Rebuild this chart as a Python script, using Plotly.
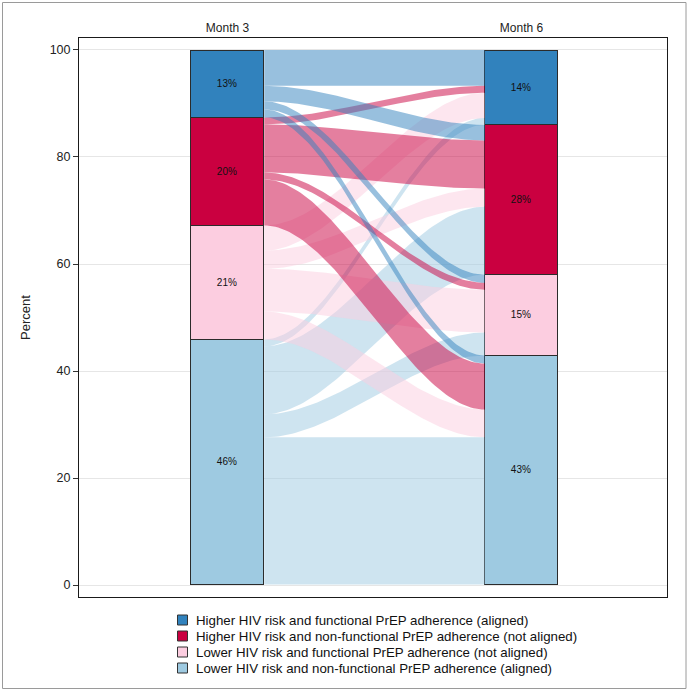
import plotly.graph_objects as go
import numpy as np

# ---- data ----
timepoints = ["Month 3", "Month 6"]
categories = [
    "Higher HIV risk and functional PrEP adherence (aligned)",
    "Higher HIV risk and non-functional PrEP adherence (not aligned)",
    "Lower HIV risk and functional PrEP adherence (not aligned)",
    "Lower HIV risk and non-functional PrEP adherence (aligned)",
]
colors = ["#3182bd", "#ca0040", "#fccde0", "#9ecae1"]
flow_rgb = [(49, 130, 189), (202, 0, 64), (252, 205, 224), (158, 202, 225)]

# percent flowing from Month 3 category (row) to Month 6 category (column)
flow_from_higher_functional = [6.7, 2.9, 1.5, 1.5]
flow_from_higher_nonfunctional = [1.3, 9.0, 1.3, 8.6]
flow_from_lower_functional = [4.7, 3.4, 8.0, 5.2]
flow_from_lower_nonfunctional = [1.3, 12.7, 4.3, 27.5]
flows = np.array([
    flow_from_higher_functional,
    flow_from_higher_nonfunctional,
    flow_from_lower_functional,
    flow_from_lower_nonfunctional,
])

month3 = flows.sum(axis=1)
month6 = flows.sum(axis=0)
totals = [month3, month6]

W = 0.25  # bar width in x units
xpos = [1, 2]

# figure geometry (pixels)
FW, FH = 688, 691
ML, MR, MT, MB = 79, 21, 38, 94
PW, PH = FW - ML - MR, FH - MT - MB


def px_x(p):
    return (p - ML) / PW


def px_y(p):
    return (FH - MB - p) / PH


fig = go.Figure()

# ---- bars (stacked: bottom category first) ----
for k in [3, 2, 1, 0]:
    vals = [totals[0][k], totals[1][k]]
    fig.add_trace(go.Bar(
        x=xpos, y=vals, width=W, name=categories[k],
        marker=dict(color=colors[k], line=dict(color="#2b2b2b", width=1.2)),
        text=[f"{round(v):d}%" for v in vals],
        textposition="inside", insidetextanchor="middle",
        textfont=dict(color="#111111", size=10, family="Liberation Sans, Arial"),
        constraintext="none", textangle=0,
        showlegend=False, hoverinfo="skip",
    ))

# ---- flows ----
n = len(categories)
left_top = 100 - np.concatenate([[0], np.cumsum(month3)[:-1]])
right_top = 100 - np.concatenate([[0], np.cumsum(month6)[:-1]])
left_pos = {}
right_pos = {}
for i in range(n):
    y = left_top[i]
    for j in range(n):
        left_pos[(i, j)] = (y, y - flows[i, j])
        y -= flows[i, j]
for j in range(n):
    y = right_top[j]
    for i in range(n):
        right_pos[(i, j)] = (y, y - flows[i, j])
        y -= flows[i, j]

xa = xpos[0] + W / 2
xb = xpos[1] - W / 2
t = np.linspace(0, 1, 80)
s = 3 * t ** 2 - 2 * t ** 3
xs = xa + (xb - xa) * t

for i in [3, 2, 1, 0]:
    r, g, b = flow_rgb[i]
    for j in range(n):
        if flows[i, j] <= 0:
            continue
        a_top, a_bot = left_pos[(i, j)]
        b_top, b_bot = right_pos[(i, j)]
        top = a_top + (b_top - a_top) * s
        bot = a_bot + (b_bot - a_bot) * s
        fig.add_trace(go.Scatter(
            x=np.concatenate([xs, xs[::-1]]),
            y=np.concatenate([top, bot[::-1]]),
            mode="lines", fill="toself", line=dict(width=0),
            fillcolor=f"rgba({r},{g},{b},0.5)",
            showlegend=False, hoverinfo="skip",
        ))

# ---- legend (drawn below the plot) ----
shapes = [dict(
    type="rect", xref="paper", yref="paper",
    x0=px_x(2.5), x1=px_x(686), y0=px_y(688.5), y1=px_y(2.5),
    line=dict(color="#9a9a9a", width=1), fillcolor="rgba(0,0,0,0)", layer="below",
)]
annotations = []
row0, row_gap = 620, 16
for k in range(n):
    cy = row0 + k * row_gap
    shapes.append(dict(
        type="rect", xref="paper", yref="paper",
        x0=px_x(177.5), x1=px_x(187.5), y0=px_y(cy + 5), y1=px_y(cy - 5),
        line=dict(color="#333333", width=1), fillcolor=colors[k],
    ))
    annotations.append(dict(
        xref="paper", yref="paper", x=px_x(194), y=px_y(cy),
        xanchor="left", yanchor="middle", showarrow=False,
        text=categories[k], font=dict(size=13.3, color="#111111"),
    ))

fig.update_layout(
    width=FW, height=FH,
    margin=dict(l=ML, r=MR, t=MT, b=MB),
    paper_bgcolor="white", plot_bgcolor="white",
    barmode="stack", bargap=0,
    font=dict(family="Liberation Sans, Arial", size=12, color="#222222"),
    showlegend=False,
    xaxis=dict(
        range=[0.495, 2.495], side="top", tickmode="array",
        tickvals=xpos, ticktext=timepoints, showgrid=False, zeroline=False,
        showline=True, mirror=True, linecolor="#1a1a1a", linewidth=1,
        ticks="", tickfont=dict(size=12, color="#222222"),
    ),
    yaxis=dict(
        range=[-2.24, 102.24], tickmode="array",
        tickvals=[0, 20, 40, 60, 80, 100], showgrid=True, gridcolor="#e6e6e6",
        gridwidth=1, zeroline=False, showline=True, mirror=True,
        linecolor="#1a1a1a", linewidth=1, ticks="outside", ticklen=5,
        tickcolor="#333333", tickfont=dict(size=12.5, color="#222222"),
        title=dict(text="Percent", font=dict(size=13, color="#222222"), standoff=16),
    ),
    shapes=shapes,
    annotations=annotations,
)

fig.write_html("out.html")
